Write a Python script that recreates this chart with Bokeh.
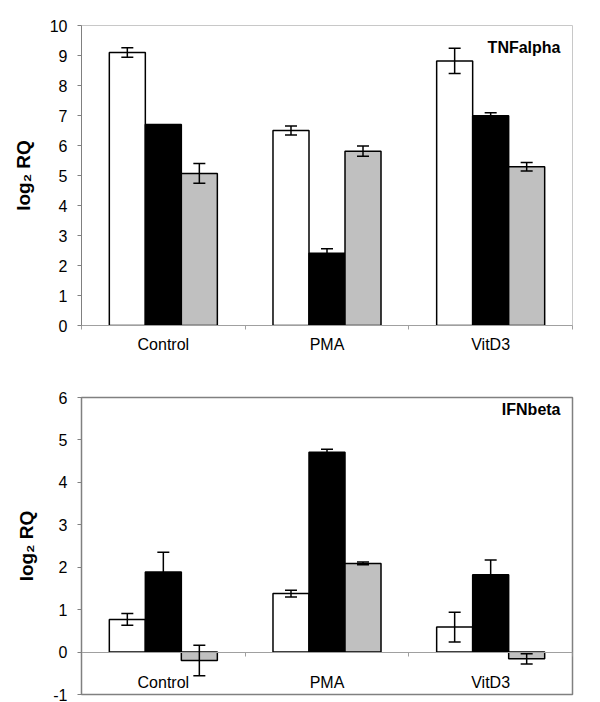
from bokeh.plotting import figure
from bokeh.layouts import column
from bokeh.models import (ColumnDataSource, Whisker, TeeHead, FixedTicker, Range1d,
                          LinearAxis, Label)
from bokeh.embed import file_html
from bokeh.resources import INLINE

# ---------------- data ----------------
cats = ["Control", "PMA", "VitD3"]

tnf_white = [9.10, 6.50, 8.82]
tnf_white_err = [0.16, 0.15, 0.42]
tnf_black = [6.70, 2.41, 6.99]
tnf_black_err = [0.0, 0.15, 0.10]
tnf_gray = [5.07, 5.81, 5.29]
tnf_gray_err = [0.33, 0.17, 0.14]

ifn_white = [0.77, 1.38, 0.59]
ifn_white_err = [0.14, 0.08, 0.35]
ifn_black = [1.89, 4.71, 1.82]
ifn_black_err = [0.46, 0.07, 0.35]
ifn_gray = [-0.20, 2.09, -0.16]
ifn_gray_err = [0.36, 0.03, 0.12]

FONT = "Liberation Sans"
BAR_W = 0.22
OFFSETS = [-0.22, 0.0, 0.22]
FILLS = ["white", "black", "#c0c0c0"]


def make_panel(series, errs, y_start, y_end, title, height, border_top, border_bottom,
               box_color, fixed_zero, title_dy):
    p = figure(width=592, height=height, output_backend="svg", toolbar_location=None,
               x_range=Range1d(0, 3), y_range=Range1d(y_start, y_end),
               min_border_left=81, min_border_right=20,
               min_border_top=border_top, min_border_bottom=border_bottom,
               x_axis_type=None)
    p.xgrid.visible = False
    p.ygrid.visible = False
    p.outline_line_color = box_color
    p.outline_line_width = 1.5 if fixed_zero else 1
    p.background_fill_color = "white"
    p.border_fill_color = "white"

    centers = [i + 0.5 for i in range(len(cats))]
    for vals, err, off, fill in zip(series, errs, OFFSETS, FILLS):
        xs = [c + off for c in centers]
        src = ColumnDataSource(dict(x=xs, top=vals))
        p.vbar(x="x", top="top", bottom=0, width=BAR_W, source=src,
               fill_color=fill, line_color="black", line_width=1.5)
        keep = [i for i, e in enumerate(err) if e > 0]
        esrc = ColumnDataSource(dict(x=[xs[i] for i in keep],
                                     upper=[vals[i] + err[i] for i in keep],
                                     lower=[vals[i] - err[i] for i in keep]))
        w = Whisker(base="x", upper="upper", lower="lower", source=esrc,
                    line_color="black", line_width=1.5, level="overlay",
                    upper_head=TeeHead(size=12, line_color="black", line_width=1.5),
                    lower_head=TeeHead(size=12, line_color="black", line_width=1.5))
        p.add_layout(w)

    # x axis
    xaxis = LinearAxis(ticker=FixedTicker(ticks=centers, minor_ticks=list(range(len(cats) + 1))),
                       major_label_overrides={c: n for c, n in zip(centers, cats)})
    xaxis.major_tick_out = 0
    xaxis.major_tick_in = 0
    xaxis.minor_tick_out = 4
    xaxis.minor_tick_in = 0
    xaxis.minor_tick_line_color = "#a0a0a0"
    xaxis.axis_line_color = "#a0a0a0"
    xaxis.major_label_text_font = FONT
    xaxis.major_label_text_font_size = "16px"
    xaxis.major_label_text_color = "black"
    if fixed_zero:
        xaxis.fixed_location = 0
        xaxis.major_label_standoff = 18
    else:
        xaxis.major_label_standoff = 6
    p.add_layout(xaxis, "below")

    # y axis
    yticks = list(range(int(y_start), int(y_end) + 1))
    ya = p.yaxis[0]
    ya.ticker = FixedTicker(ticks=yticks)
    ya.major_label_overrides = {t: str(t) for t in yticks if t < 0}
    ya.axis_line_color = "#808080"
    ya.major_tick_line_color = "#808080"
    ya.major_tick_out = 4
    ya.major_tick_in = 0
    ya.minor_tick_out = 0
    ya.minor_tick_in = 0
    ya.major_label_text_font = FONT
    ya.major_label_text_font_size = "16px"
    ya.major_label_text_color = "black"
    ya.major_label_standoff = 10
    ya.axis_label = "log\u2082 RQ"
    ya.axis_label_text_font = FONT
    ya.axis_label_text_font_style = "bold"
    ya.axis_label_text_font_size = "19px"
    ya.axis_label_text_color = "black"
    ya.axis_label_standoff = 13

    lab = Label(x=3, y=y_end, x_offset=-12, y_offset=-title_dy,
                text=title, text_align="right", text_baseline="middle",
                text_font=FONT, text_font_style="bold", text_font_size="16px",
                text_color="black")
    p.add_layout(lab)
    return p


p1 = make_panel([tnf_white, tnf_black, tnf_gray],
                [tnf_white_err, tnf_black_err, tnf_gray_err],
                0, 10, "TNFalpha", 358, 25, 33, "#c8c8c8", False, 22)
p2 = make_panel([ifn_white, ifn_black, ifn_gray],
                [ifn_white_err, ifn_black_err, ifn_gray_err],
                -1, 6, "IFNbeta", 344, 39, 8, "#808080", True, 12)

layout = column(p1, p2, spacing=0)
open("out.html", "w").write(file_html(layout, INLINE))
